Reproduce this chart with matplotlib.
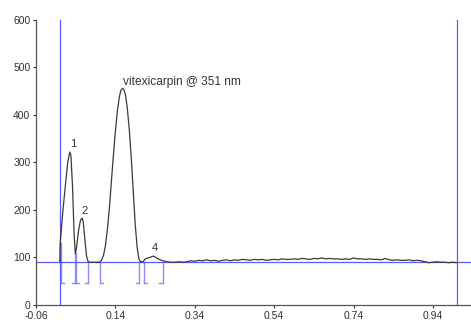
import numpy as np
import matplotlib
matplotlib.use('Agg')
import matplotlib.pyplot as plt

# retention time (min) / signal (mAU)
time = [0.000, 0.001, 0.008, 0.015, 0.020, 0.025, 0.028, 0.032, 0.036, 0.039,
        0.042, 0.047, 0.052, 0.056, 0.059, 0.063, 0.067, 0.071, 0.075, 0.085,
        0.100, 0.105, 0.110, 0.115, 0.120, 0.125, 0.130, 0.135, 0.140, 0.145,
        0.150, 0.154, 0.158, 0.162, 0.166, 0.170, 0.175, 0.180, 0.185, 0.190,
        0.195, 0.199, 0.203, 0.210, 0.215, 0.222, 0.230, 0.236, 0.242, 0.250]
signal = [90, 130, 200, 260, 300, 322, 315, 250, 150, 108,
          120, 155, 178, 183, 175, 140, 105, 92, 90, 90,
          90, 94, 104, 125, 160, 205, 260, 315, 365, 408,
          438, 452, 456, 453, 440, 415, 370, 310, 240, 170,
          120, 98, 91, 91, 97, 99, 101, 103, 100, 96]
base_time = [round(0.26 + 0.01 * i, 2) for i in range(75)]
base_signal = [93, 91, 90, 90, 91, 90, 91, 93, 92, 94,
               93, 95, 93, 94, 92, 94, 95, 93, 95, 94,
               96, 95, 94, 96, 95, 96, 94, 95, 96, 95,
               97, 96, 96, 97, 96, 98, 97, 96, 98, 97,
               99, 97, 98, 97, 97, 96, 97, 96, 99, 97,
               97, 96, 97, 96, 96, 95, 98, 95, 94, 95,
               94, 94, 95, 93, 94, 93, 91, 89, 90, 91,
               90, 90, 89, 90, 89]

# integration marks: (time, top of drop line, side)
marks_t = [0.003, 0.038, 0.040, 0.072, 0.101, 0.200, 0.212, 0.259]
marks_top = [130, 109, 109, 90, 90, 90, 90, 90]
marks_side = ['[', ']', '[', ']', '[', ']', '[', ']']

peak_labels = ['1', '2', '4']
peak_lx = [0.033, 0.063, 0.240]
peak_ly = [339, 198, 119]

baseline_y = 90
window = [0.0, 1.0]

plt.rcParams['font.family'] = ['Liberation Sans', 'DejaVu Sans']

fig = plt.figure(figsize=(4.71, 3.2), dpi=100)
ax = fig.add_axes([0.0764, 0.047, 0.9236, 0.8905])

t_all = time + base_time
s_all = signal + base_signal
ax.plot(t_all, s_all, color='#3a3a3a', lw=0.9, zorder=3)

blue = '#5a5aff'
ax.axhline(baseline_y, color=blue, lw=0.9, zorder=2)
for w in window:
    ax.axvline(w, color=blue, lw=0.9, zorder=2)

light = '#8c8cff'
for t, top, side in zip(marks_t, marks_top, marks_side):
    ax.plot([t, t], [46, top], color=light, lw=1.0, zorder=1)
    d = 0.008 if side == '[' else -0.008
    ax.plot([t, t + d], [46, 46], color=light, lw=1.0, zorder=1)

for lab, x, y in zip(peak_labels, peak_lx, peak_ly):
    ax.text(x, y, lab, ha='center', va='center', fontsize=8, color='#333333')
ax.text(0.158, 470, 'vitexicarpin @ 351 nm', ha='left', va='center',
        fontsize=8.6, color='#333333')

ax.set_xlim(-0.06, 1.036)
ax.set_ylim(0, 600)
ax.set_xticks([-0.06, 0.14, 0.34, 0.54, 0.74, 0.94])
ax.set_xticklabels(['-0.06', '0.14', '0.34', '0.54', '0.74', '0.94'])
ax.set_yticks([0, 100, 200, 300, 400, 500, 600])
ax.tick_params(labelsize=7.5, colors='#333333', length=2.5, width=0.8, pad=1.5)
for s in ['top', 'right']:
    ax.spines[s].set_visible(False)
for s in ['left', 'bottom']:
    ax.spines[s].set_color('#555555')
    ax.spines[s].set_linewidth(0.9)

fig.savefig('out.png', dpi=100)
